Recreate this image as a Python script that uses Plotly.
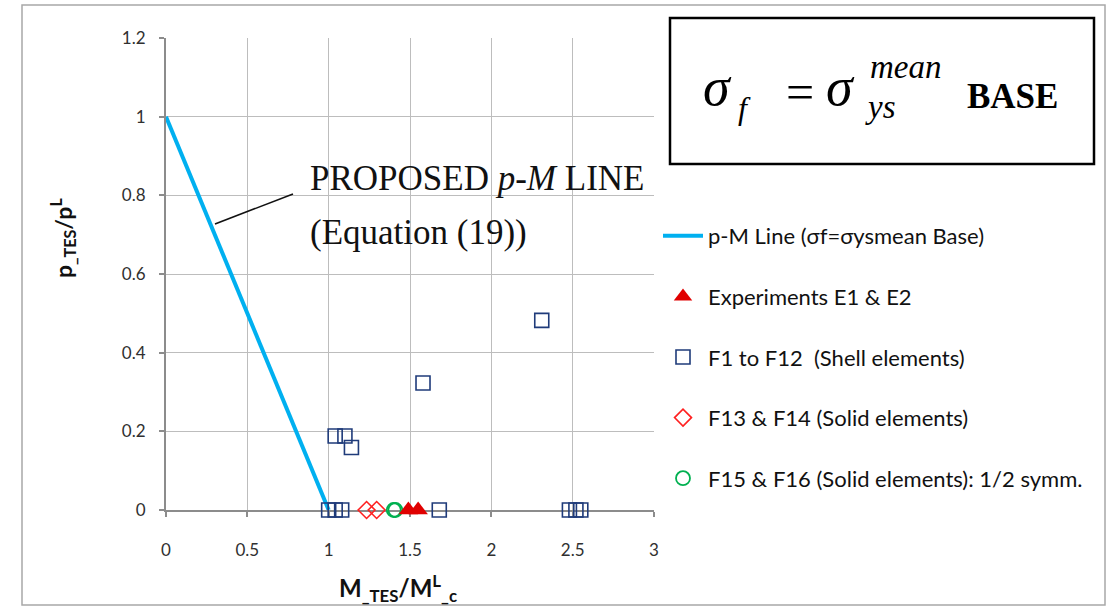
import plotly.graph_objects as go

# ---- data ----
line_x = [0, 1]
line_y = [1, 0]
exp_x = [1.49, 1.55]
exp_y = [0, 0]
shell_x = [1.00, 1.04, 1.08, 1.04, 1.10, 1.14, 1.58, 1.68, 2.31, 2.48, 2.52, 2.55]
shell_y = [0, 0, 0, 0.188, 0.188, 0.159, 0.323, 0, 0.482, 0, 0, 0]
solid_x = [1.233, 1.295]
solid_y = [0, 0]
half_x = [1.40, 1.41]
half_y = [0, 0]

x_ticks = [0, 0.5, 1, 1.5, 2, 2.5, 3]
x_ticktext = ["0", "0.5", "1", "1.5", "2", "2.5", "3"]
y_ticks = [0, 0.2, 0.4, 0.6, 0.8, 1, 1.2]
y_ticktext = ["0", "0.2", "0.4", "0.6", "0.8", "1", "1.2"]

names = [
    "p-M Line (σf=σysmean Base)",
    "Experiments E1 & E2",
    "F1 to F12  (Shell elements)",
    "F13 & F14 (Solid elements)",
    "F15 & F16 (Solid elements): 1/2 symm.",
]

W, H = 1115, 607
L, R, T, B = 166, 654, 38, 510


def px(x):
    return (x - L) / (R - L)


def py(y):
    return (B - y) / (B - T)


fig = go.Figure()
fig.add_trace(go.Scatter(x=line_x, y=line_y, mode="lines", name=names[0],
                         line=dict(color="#00B0F0", width=4), legendgroup="a", legendrank=1))
fig.add_trace(go.Scatter(x=shell_x, y=shell_y, mode="markers", name=names[2], legendgroup="c",
                         cliponaxis=False, legendrank=3,
                         marker=dict(symbol="square-open", size=14, color="#1F3B7A",
                                     line=dict(width=1.6))))
fig.add_trace(go.Scatter(x=solid_x, y=solid_y, mode="markers", name=names[3], legendgroup="d",
                         cliponaxis=False, legendrank=4,
                         marker=dict(symbol="diamond-open", size=13, color="#FF2020",
                                     line=dict(width=1.6))))
fig.add_trace(go.Scatter(x=half_x, y=half_y, mode="markers", name=names[4], legendgroup="e",
                         cliponaxis=False, legendrank=5,
                         marker=dict(symbol="circle-open", size=14, color="#00B050",
                                     line=dict(width=1.8))))
fig.add_trace(go.Scatter(x=exp_x, y=exp_y, mode="markers", name=names[1], legendgroup="b",
                         cliponaxis=False, legendrank=2,
                         marker=dict(symbol="triangle-up", size=17, color="#E00000",
                                     line=dict(width=0))))

tickfont = dict(family="Lato, Open Sans, sans-serif", size=17, color="#303030")

fig.update_xaxes(range=[0, 3], tickvals=x_ticks, ticktext=x_ticktext,
                 showgrid=True, gridcolor="#BDBDBD", gridwidth=1.2,
                 showline=True, linecolor="#8C8C8C", linewidth=2.2,
                 ticks="outside", ticklen=5, tickcolor="#8C8C8C", tickwidth=1.5,
                 zeroline=False, tickfont=tickfont, ticklabelstandoff=18,
                 mirror=False, layer="below traces")
fig.update_yaxes(range=[0, 1.2], tickvals=y_ticks, ticktext=y_ticktext,
                 showgrid=True, gridcolor="#BDBDBD", gridwidth=1.2,
                 showline=True, linecolor="#8C8C8C", linewidth=2.2,
                 ticks="outside", ticklen=5, tickcolor="#8C8C8C", tickwidth=1.5,
                 zeroline=False, tickfont=tickfont, ticklabelstandoff=10,
                 layer="below traces")

annotations = []
# axis titles
annotations.append(dict(xref="paper", yref="paper", x=px(398), y=py(588),
                        text="<b>M<sub>_TES</sub>/M<sup>L</sup><sub>_c</sub></b>",
                        showarrow=False, xanchor="center", yanchor="middle",
                        font=dict(family="Lato, Open Sans, sans-serif", size=24, color="#111")))
annotations.append(dict(xref="paper", yref="paper", x=px(62), y=py(238),
                        text="<b>p<sub>_TES</sub>/p<sup>L</sup></b>", textangle=-90,
                        showarrow=False, xanchor="center", yanchor="middle",
                        font=dict(family="Lato, Open Sans, sans-serif", size=23, color="#111")))
# proposed line label
serif = "Liberation Serif, Times New Roman, serif"
annotations.append(dict(xref="paper", yref="paper", x=px(308), y=py(178),
                        text="PROPOSED <i>p-M</i> LINE", showarrow=False,
                        xanchor="left", yanchor="middle",
                        font=dict(family=serif, size=35, color="#111")))
annotations.append(dict(xref="paper", yref="paper", x=px(308), y=py(232),
                        text="(Equation (19))", showarrow=False,
                        xanchor="left", yanchor="middle",
                        font=dict(family=serif, size=35, color="#111")))
# equation box pieces
eq = [
    ("<i>σ</i>", 717, 87, 54),
    ("<i>f</i>", 744, 108, 32),
    ("=", 800, 92, 50),
    ("<i>σ</i>", 840, 87, 54),
    ("<i>mean</i>", 905, 67, 33),
    ("<i>ys</i>", 880, 107, 33),
    ("<b>BASE</b>", 1012, 96, 35),
]
for t, x, y, s in eq:
    annotations.append(dict(xref="paper", yref="paper", x=px(x), y=py(y), text=t,
                            showarrow=False, xanchor="center", yanchor="middle",
                            font=dict(family=serif, size=s, color="#000")))

shapes = [
    # outer chart frame
    dict(type="rect", xref="paper", yref="paper", x0=px(22), x1=px(1105), y0=py(605), y1=py(5),
         line=dict(color="#A8A8A8", width=1.5), layer="below"),
    # equation box
    dict(type="rect", xref="paper", yref="paper", x0=px(670), x1=px(1094), y0=py(164), y1=py(18),
         line=dict(color="#000", width=2.5)),
    # leader line
    dict(type="line", xref="paper", yref="paper", x0=px(215), y0=py(224), x1=px(293), y1=py(194),
         line=dict(color="#111", width=1.6)),
]

fig.update_layout(
    width=W, height=H,
    margin=dict(l=L, r=W - R, t=T, b=H - B, pad=0),
    paper_bgcolor="white", plot_bgcolor="white",
    showlegend=True,
    legend=dict(x=px(658), y=py(215), xanchor="left", yanchor="top",
                bgcolor="rgba(0,0,0,0)", tracegroupgap=29,
                font=dict(family="Lato, Open Sans, sans-serif", size=22, color="#111"),
                itemwidth=40),
    annotations=annotations,
    shapes=shapes,
)

fig.write_html("out.html")
